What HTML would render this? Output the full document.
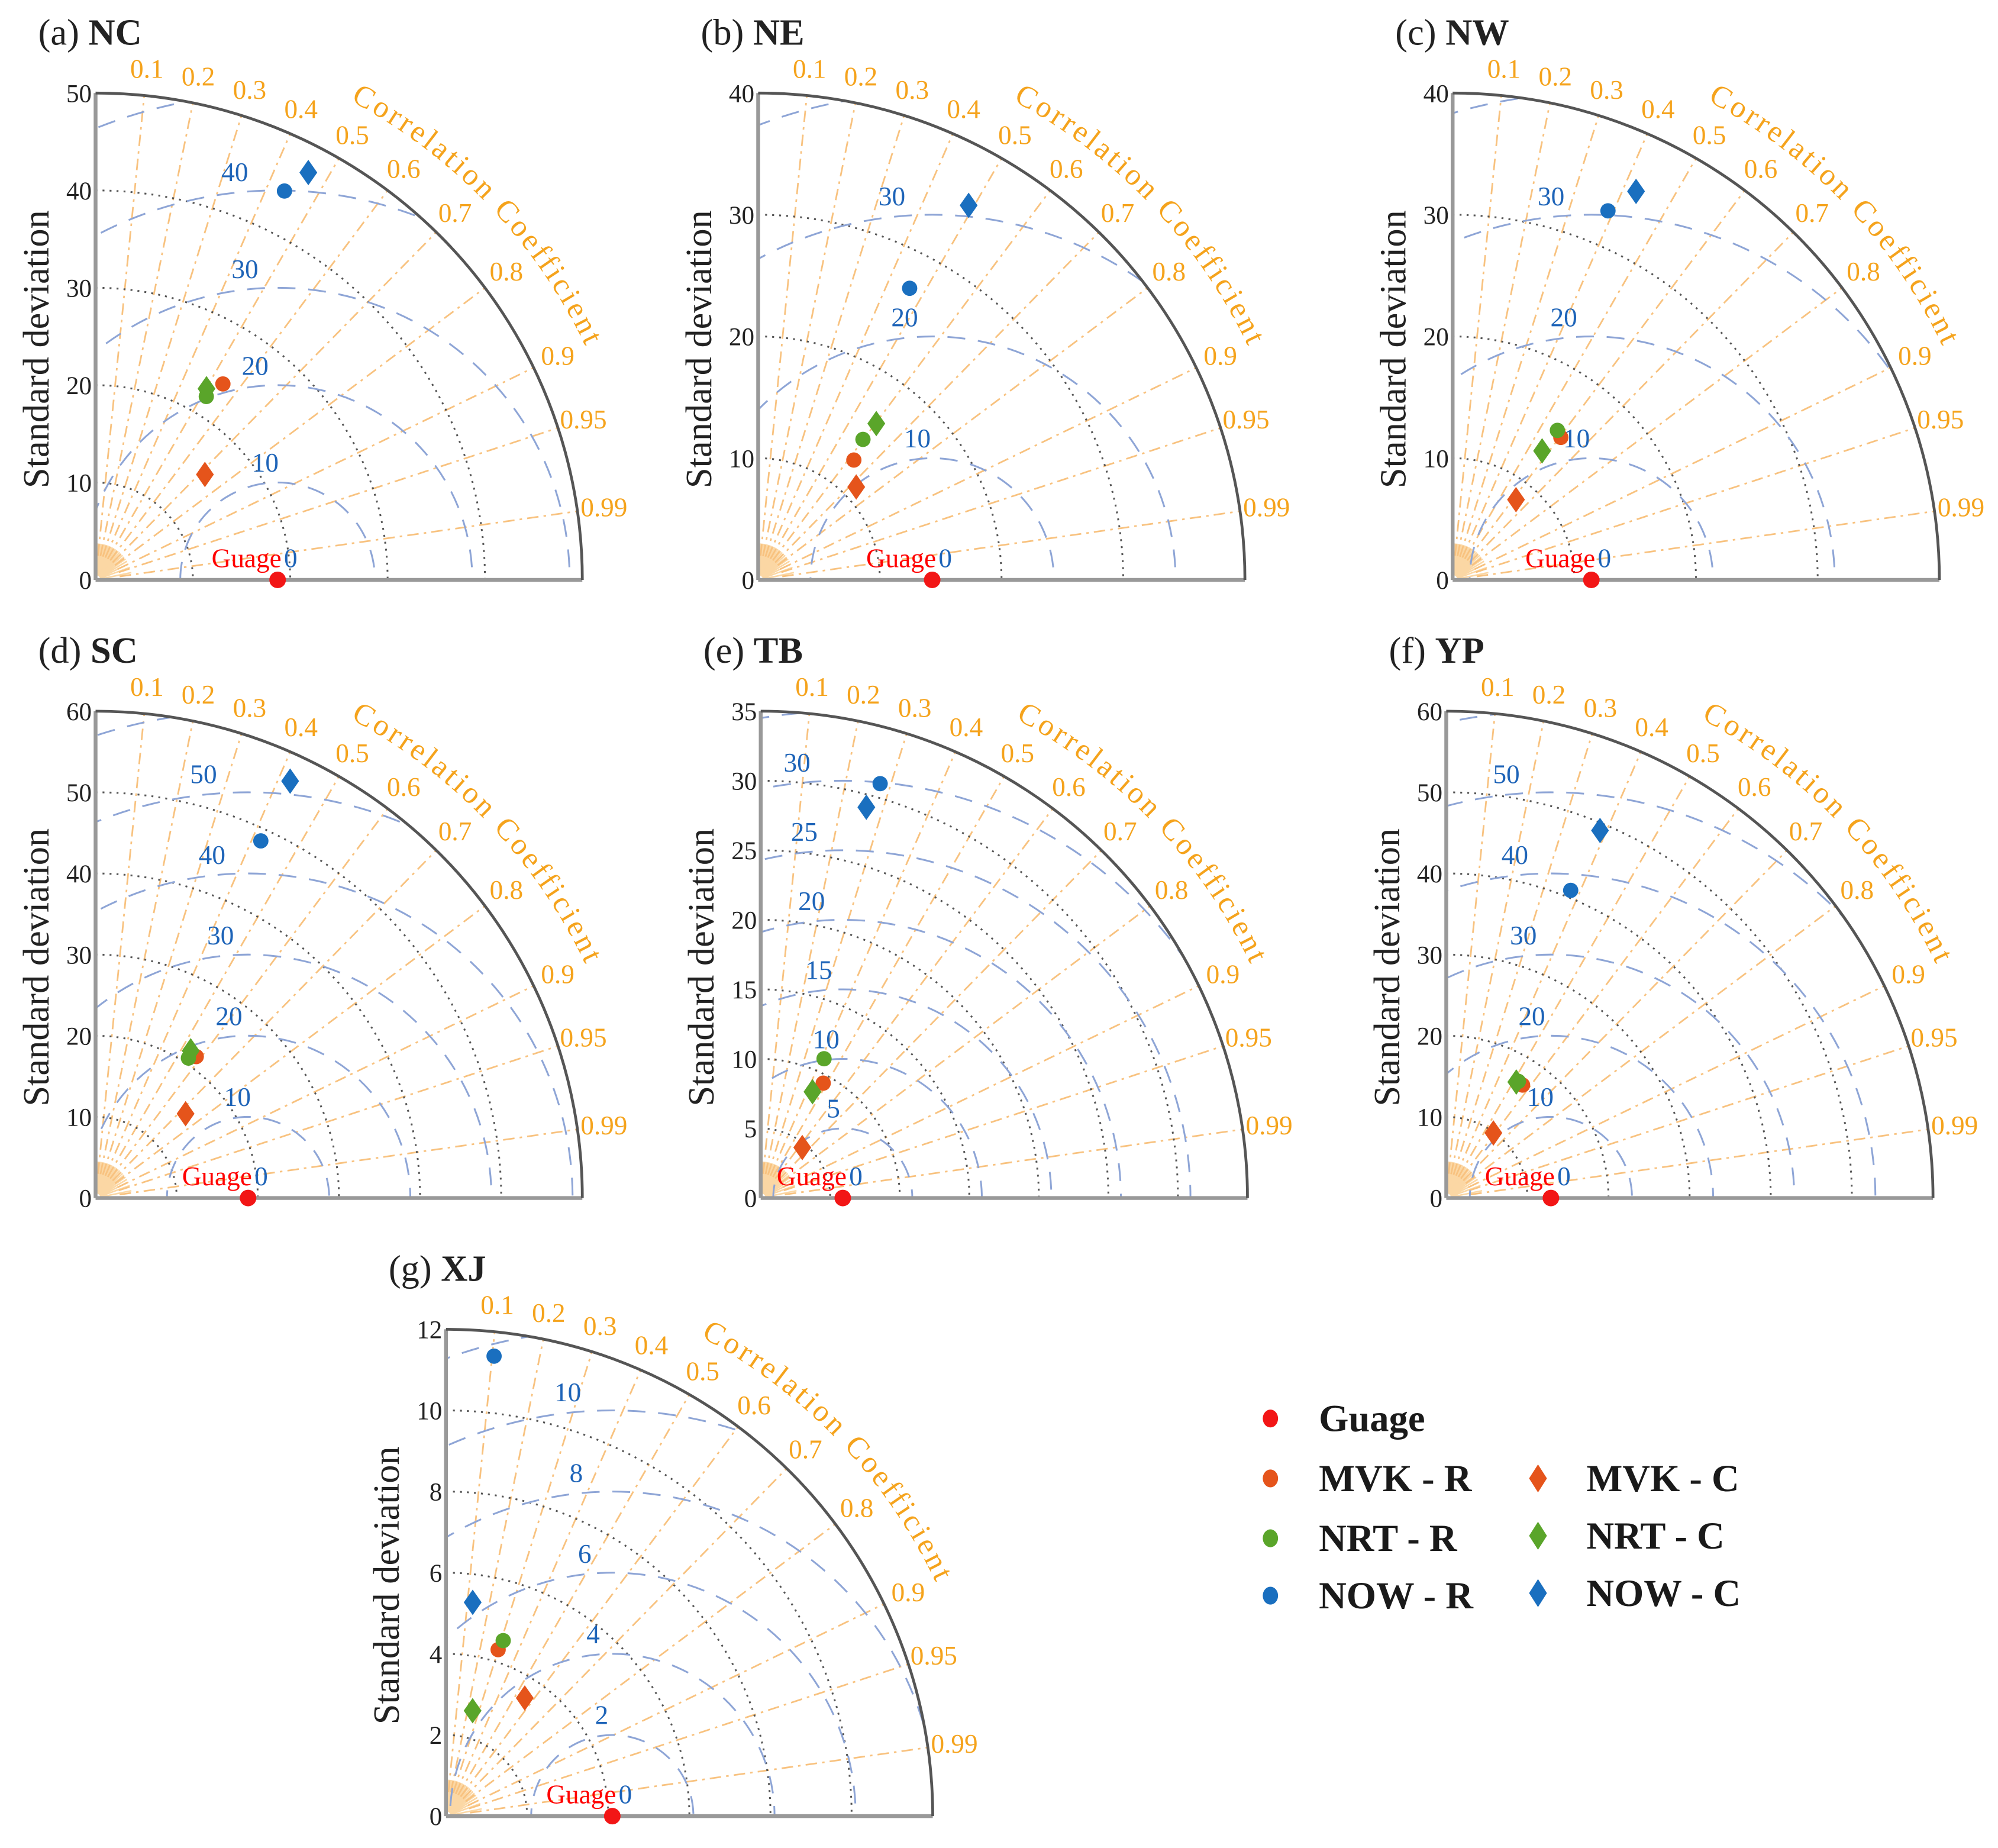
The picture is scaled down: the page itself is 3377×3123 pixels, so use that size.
<!DOCTYPE html>
<html><head><meta charset="utf-8">
<style>html,body{margin:0;padding:0;background:#fff;overflow:hidden;width:3377px;height:3123px}svg{display:block;overflow:hidden}</style>
</head><body>
<svg id="fig" width="3377" height="3123" viewBox="0 0 1568 1450" preserveAspectRatio="none" xmlns="http://www.w3.org/2000/svg" font-family="'Liberation Serif', serif"></svg>
<script>
// ---- data ----
const panelIds = ['a','b','c','d','e','f','g'];
const panelNames = ['NC','NE','NW','SC','TB','YP','XJ'];
const panelMax = [50,40,40,60,35,60,12];
const stdTicks = [[0,10,20,30,40,50],[0,10,20,30,40],[0,10,20,30,40],[0,10,20,30,40,50,60],[0,5,10,15,20,25,30,35],[0,10,20,30,40,50,60],[0,2,4,6,8,10,12]];
const rmsTicks = [[10,20,30,40],[10,20,30],[10,20,30],[10,20,30,40,50],[5,10,15,20,25,30],[10,20,30,40,50],[2,4,6,8,10]];
const gaugeStd = [18.7,14.3,11.4,18.8,5.9,12.9,4.1];
const seriesNames = ['MVK - R','NRT - R','NOW - R','MVK - C','NRT - C','NOW - C'];
const seriesColors = ['#e5541b','#5aa52a','#1a6fbf','#e5541b','#5aa52a','#1a6fbf'];
const seriesShapes = ['circle','circle','circle','diamond','diamond','diamond'];
// std values per panel, order: MVK-R, NRT-R, NOW-R, MVK-C, NRT-C, NOW-C
const stdA = [24.0,22.0,44.4,15.6,22.7,47.2];
const stdB = [12.6,14.4,27.0,11.1,16.1,35.3];
const stdC = [14.7,15.0,32.9,8.4,12.9,35.3];
const stdD = [21.4,20.7,48.5,15.2,21.6,56.7];
const stdE = [9.4,11.0,31.0,4.7,8.5,29.1];
const stdF = [16.8,16.9,40.9,9.9,16.7,49.1];
const stdG = [4.3,4.55,11.4,3.5,2.68,5.31];
const corrA = [0.545,0.517,0.437,0.72,0.502,0.463];
const corrB = [0.624,0.598,0.461,0.726,0.603,0.49];
const corrC = [0.605,0.574,0.388,0.62,0.57,0.427];
const corrD = [0.58,0.553,0.42,0.73,0.543,0.423];
const corrE = [0.478,0.414,0.277,0.636,0.438,0.261];
const corrF = [0.56,0.526,0.375,0.587,0.517,0.386];
const corrG = [0.299,0.31,0.104,0.555,0.245,0.124];
const corrTicks = [0.1,0.2,0.3,0.4,0.5,0.6,0.7,0.8,0.9,0.95,0.99];

const stdVals = [stdA,stdB,stdC,stdD,stdE,stdF,stdG];
const corrVals = [corrA,corrB,corrC,corrD,corrE,corrF,corrG];
// layout (not data)
const origins = [[75,455],[595,455],[1140,455],[75,940],[597,940],[1135,940],[350,1425]];
const R = 382;

const NS='http://www.w3.org/2000/svg';
const svg=document.getElementById('fig');
function mk(tag,attrs,parent){const e=document.createElementNS(NS,tag);for(const k in attrs)e.setAttribute(k,attrs[k]);(parent||svg).appendChild(e);return e;}

panelIds.forEach((pid,i)=>{
  const [ox,oy]=origins[i];const max=panelMax[i];const k=R/max;
  const sx=(s,c)=>ox+s*k*c; const sy=(s,c)=>oy-s*k*Math.sqrt(Math.max(0,1-c*c));
  const g=mk('g',{});
  
  
  const cid='clip'+pid;
  const defs=mk('defs',{},g);
  const cp=mk('clipPath',{id:cid},defs);
  mk('path',{d:`M${ox},${oy} L${ox+R},${oy} A${R},${R} 0 0 0 ${ox},${oy-R} Z`},cp);
  const inner=mk('g',{'clip-path':`url(#${cid})`},g);
  for(let c=0.02;c<1;c+=0.04){
    const a=Math.acos(c);
    mk('line',{x1:ox+R*0.01*Math.cos(a),y1:oy-R*0.01*Math.sin(a),x2:ox+R*0.075*Math.cos(a),y2:oy-R*0.075*Math.sin(a),stroke:'#fbd7a4','stroke-width':1.2},inner);
  }
  corrTicks.forEach(c=>{
    const a=Math.acos(c);
    const ln=mk('line',{x1:ox+R*0.05*Math.cos(a),y1:oy-R*0.05*Math.sin(a),x2:ox+R*Math.cos(a),y2:oy-R*Math.sin(a),stroke:'#f8c27f','stroke-width':1.3,'stroke-dasharray':'9 4 2 4'},inner);
    
    
    const t=mk('text',{x:ox+R*1.055*Math.cos(a),y:oy-R*1.055*Math.sin(a)+7,'text-anchor':'middle','font-size':21,fill:'#f5a31c'},g);
    t.textContent=String(c);
    
    
  });
  stdTicks[i].forEach(s=>{
    if(s<=0||s>=max)return;const r=s*k;
    const p=mk('path',{d:`M${ox},${oy-r} A${r},${r} 0 0 1 ${ox+r},${oy}`,fill:'none',stroke:'#555','stroke-width':1.4,'stroke-dasharray':'1.5 4'},inner);
    
    
  });
  const gx=ox+gaugeStd[i]*k;
  const rmsAll=rmsTicks[i].slice();
  const step=rmsAll[1]-rmsAll[0];
  for(let r=rmsAll[rmsAll.length-1]+step;r*k<R*1.6;r+=step)rmsAll.push(r);
  rmsAll.forEach((r,j)=>{
    const rp=r*k;
    const p=mk('circle',{cx:gx,cy:oy,r:rp,fill:'none',stroke:'#8ea5d6','stroke-width':1.4,'stroke-dasharray':'14 10'},inner);
    
    
    if(j<rmsTicks[i].length){
      const a=96*Math.PI/180,rr=rp+16;
      const t=mk('text',{x:gx+rr*Math.cos(a),y:oy-rr*Math.sin(a)+7,'text-anchor':'middle','font-size':21,fill:'#1e64b8'},g);
      t.textContent=String(r);
      
      
    }
  });
  mk('line',{x1:ox,y1:oy,x2:ox,y2:oy-R,stroke:'#999','stroke-width':3},g);
  mk('line',{x1:ox,y1:oy,x2:ox+R,y2:oy,stroke:'#999','stroke-width':3},g);
  const arc=mk('path',{d:`M${ox},${oy-R} A${R},${R} 0 0 1 ${ox+R},${oy}`,fill:'none',stroke:'#555','stroke-width':2.2},g);
  
  
  stdTicks[i].forEach(s=>{
    const t=mk('text',{x:ox-3,y:oy-s*k+7,'text-anchor':'end','font-size':20,fill:'#222'},g);
    t.textContent=String(s);
    
    
  });
  const yl=mk('text',{x:0,y:0,transform:`translate(${ox-37},${oy-R/2+10}) rotate(-90)`,'text-anchor':'middle','font-size':29,fill:'#222'},g);
  yl.textContent='Standard deviation';
  
  
  const tt=mk('text',{x:ox-45,y:oy-R-38,'font-size':29,fill:'#222'},g);
  tt.textContent='('+pid+')  ';
  const tb=mk('tspan',{'font-weight':'bold'},tt);tb.textContent=panelNames[i];
  
  
  const rc=R*1.115,a1=62*Math.PI/180,a2=10*Math.PI/180;
  mk('path',{id:'cc'+pid,d:`M${ox+rc*Math.cos(a1)},${oy-rc*Math.sin(a1)} A${rc},${rc} 0 0 1 ${ox+rc*Math.cos(a2)},${oy-rc*Math.sin(a2)}`,fill:'none'},defs);
  const ct=mk('text',{'font-size':24,fill:'#f5a31c','letter-spacing':'2.2'},g);
  const tp=mk('textPath',{href:'#cc'+pid},ct);tp.textContent='Correlation Coefficient';
  
  
  const gl=mk('text',{x:gx+3,y:oy-10,'text-anchor':'end','font-size':21,fill:'#f00'},g);gl.textContent='Guage';
  
  
  const g0=mk('text',{x:gx+5,y:oy-10,'font-size':21,fill:'#1e64b8'},g);g0.textContent='0';
  
  
  const gp=mk('circle',{cx:gx,cy:oy,r:6.5,fill:'#f21616'},g);
  
  
  seriesNames.forEach((sn,j)=>{
    const s=stdVals[i][j],c=corrVals[i][j];
    const x=sx(s,c),y=sy(s,c);
    let m;
    if(seriesShapes[j]==='circle')m=mk('circle',{cx:x,cy:y,r:6,fill:seriesColors[j]},g);
    else m=mk('path',{d:`M${x},${y-10} L${x+7},${y} L${x},${y+10} L${x-7},${y} Z`,fill:seriesColors[j]},g);
    
    
  });
});
const lg=mk('g',{});


const legItems=[['Guage','#f21616','circle',997,1113],['MVK - R',seriesColors[0],'circle',997,1160],['NRT - R',seriesColors[1],'circle',997,1207],['NOW - R',seriesColors[2],'circle',997,1252],['MVK - C',seriesColors[3],'diamond',1207,1160],['NRT - C',seriesColors[4],'diamond',1207,1205],['NOW - C',seriesColors[5],'diamond',1207,1250]];
legItems.forEach(([n,col,sh,x,y])=>{
  const e=mk('g',{},lg);
  
  
  if(sh==='circle')mk('ellipse',{cx:x,cy:y,rx:6,ry:7,fill:col},e);
  else mk('path',{d:`M${x},${y-11} L${x+7},${y} L${x},${y+11} L${x-7},${y} Z`,fill:col},e);
  const t=mk('text',{x:x+38,y:y+10,'font-size':30,'font-weight':'bold',fill:'#1a1a1a'},e);t.textContent=n;
});
</script>
</body></html>
